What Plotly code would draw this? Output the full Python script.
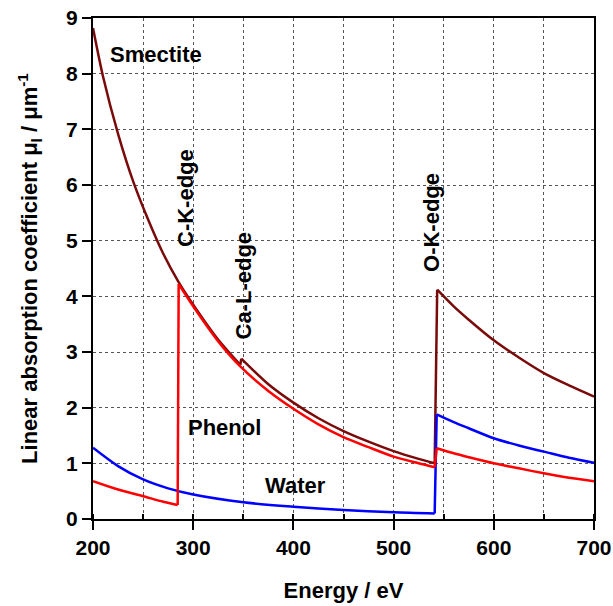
import plotly.graph_objects as go

# ---- data ----
smectite_E = [200, 210, 225, 240, 255, 270, 285, 300, 325, 347, 348, 375, 400, 425, 450,
              475, 500, 525, 541, 543.5, 560, 575, 600, 625, 650, 675, 700]
smectite_mu = [8.82, 7.95, 6.92, 6.07, 5.38, 4.77, 4.27, 3.85, 3.22, 2.77, 2.88, 2.42, 2.09, 1.81, 1.58,
               1.39, 1.22, 1.08, 1.00, 4.12, 3.82, 3.58, 3.21, 2.90, 2.62, 2.40, 2.20]

phenol_E = [200, 225, 250, 270, 284.5, 285.5, 300, 325, 347, 375, 400, 425, 450, 475, 500,
            525, 541, 543, 560, 575, 600, 625, 650, 675, 700]
phenol_mu = [0.68, 0.53, 0.41, 0.31, 0.25, 4.22, 3.82, 3.19, 2.74, 2.30, 1.98, 1.70, 1.47, 1.29, 1.12,
             1.00, 0.93, 1.27, 1.18, 1.11, 1.00, 0.91, 0.82, 0.74, 0.68]

water_E = [200, 225, 250, 275, 300, 350, 400, 450, 500, 541, 543, 560, 575, 600, 625, 650, 675, 700]
water_mu = [1.28, 0.95, 0.71, 0.55, 0.44, 0.30, 0.22, 0.16, 0.12, 0.10, 1.88, 1.74, 1.63, 1.45, 1.32, 1.21, 1.10, 1.01]

x_ticks = [200, 300, 400, 500, 600, 700]
y_ticks = [0, 1, 2, 3, 4, 5, 6, 7, 8, 9]

FONT = "Liberation Sans, Arial, Helvetica, sans-serif"
LW = 2.5

fig = go.Figure()


def add_curve(E, mu, color):
    """Smooth segments between absorption edges; edges drawn as straight jumps."""
    edges = [i for i in range(1, len(mu)) if mu[i] > mu[i - 1]]
    starts = [0] + edges
    ends = [e - 1 for e in edges] + [len(mu) - 1]
    for s, e in zip(starts, ends):
        fig.add_trace(go.Scatter(x=E[s:e + 1], y=mu[s:e + 1], mode="lines",
                                 line=dict(color=color, width=LW, shape="spline", smoothing=0.8),
                                 hoverinfo="skip"))
    for i in edges:
        fig.add_trace(go.Scatter(x=E[i - 1:i + 1], y=mu[i - 1:i + 1], mode="lines",
                                 line=dict(color=color, width=LW), hoverinfo="skip"))


add_curve(smectite_E, smectite_mu, "#7a0a0a")
add_curve(water_E, water_mu, "#0000ff")
add_curve(phenol_E, phenol_mu, "#ff0000")

lab_font = dict(family=FONT, size=22, color="black", weight="bold")


def ann(text, x, y, angle=0):
    fig.add_annotation(text=text, x=x, y=y, xref="x", yref="y", showarrow=False,
                       textangle=angle, font=lab_font, xanchor="center", yanchor="middle")


ann("Smectite", 263, 8.35)
ann("Phenol", 331, 1.64)
ann("Water", 402, 0.6)
ann("C-K-edge", 293, 5.77, -90)
ann("Ca-L-edge", 350, 4.2, -90)
ann("O-K-edge", 538, 5.33, -90)

axis_common = dict(
    showline=True, linecolor="black", linewidth=2, mirror=True,
    showgrid=True, gridcolor="#555555", gridwidth=1, griddash="dot",
    zeroline=False, automargin=False, ticklabeloverflow="allow",
    ticks="outside", ticklen=9, tickwidth=1.5, tickcolor="black",
    tickfont=dict(family=FONT, size=21, color="black", weight="bold"),
)

fig.update_xaxes(range=[200, 700], tickvals=x_ticks, **axis_common,
                 minor=dict(dtick=50, tick0=0, showgrid=True, gridcolor="#555555",
                            griddash="dot", gridwidth=1, ticks="inside", ticklen=5,
                            tickcolor="black"),
                 title=dict(text="Energy / eV", standoff=24,
                            font=dict(family=FONT, size=22, color="black", weight="bold")))
fig.update_yaxes(range=[0, 9], tickvals=y_ticks, **axis_common,
                 title=dict(text="Linear absorption coefficient μ<sub>l</sub> / μm<sup>-1</sup>",
                            standoff=22,
                            font=dict(family=FONT, size=22, color="black", weight="bold")))

fig.update_layout(
    width=613, height=606,
    margin=dict(l=93, r=19, t=18, b=87),
    paper_bgcolor="white", plot_bgcolor="white",
    showlegend=False,
)

# remove the default page margin so the figure sits at the window's top-left corner
fig.write_html("out.html", config={"displayModeBar": False},
               post_script="document.body.style.margin='0';document.body.style.overflow='hidden';")
